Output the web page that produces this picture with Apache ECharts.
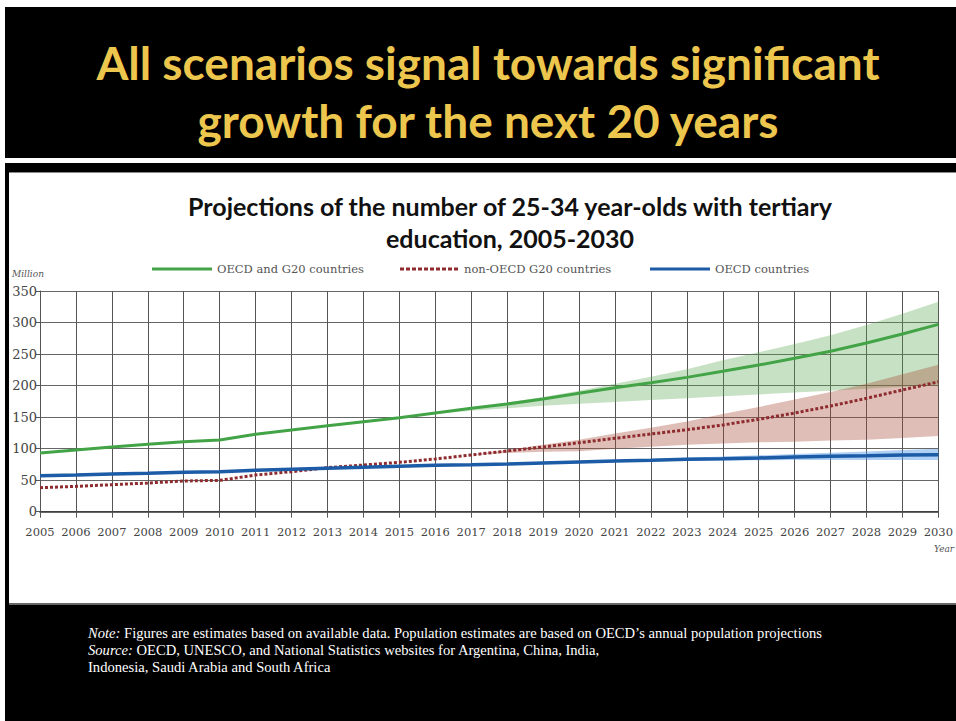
<!DOCTYPE html>
<html>
<head>
<meta charset="utf-8">
<script src="https://cdn.jsdelivr.net/npm/echarts@6/dist/echarts.min.js"></script>
<style>
html,body{margin:0;padding:0;background:#fff;}
#c{width:956px;height:721px;}
</style>
</head>
<body>
<div id="c"></div>
<script>
// ---- data ----
const years = ['2005','2006','2007','2008','2009','2010','2011','2012','2013','2014','2015','2016','2017','2018','2019','2020','2021','2022','2023','2024','2025','2026','2027','2028','2029','2030'];
const yTicks = [0, 50, 100, 150, 200, 250, 300, 350];

const oecdG20 = [93, 97.8, 102.6, 106.9, 111, 113.7, 122.7, 129.6, 136.4, 142.7, 149, 156.5, 164, 170.8, 178.7, 187.7, 196.7, 204.6, 213, 222.6, 232.6, 243.2, 254.4, 267.5, 281.8, 297];
const oecdG20Low = [93, 97.8, 102.6, 106.9, 111, 113.7, 122.7, 129.6, 136.4, 142.7, 149, 155, 160, 164, 168, 171, 174, 177, 180, 183, 186, 189, 192, 195, 198, 200];
const oecdG20High = [93, 97.8, 102.6, 106.9, 111, 113.7, 122.7, 129.6, 136.4, 142.7, 149, 157, 165, 173, 182, 192, 203, 214, 226, 240, 253, 266, 280, 296, 314, 333];

const nonOecdG20 = [38, 40.2, 42.8, 45.5, 48.7, 49.7, 58.2, 63.4, 69.8, 74, 78.3, 83.6, 90, 96.3, 102.6, 109.4, 116.4, 123.2, 130, 137.5, 146.5, 156.5, 167.6, 179.8, 193, 206];
const nonOecdG20Low = [38, 40.2, 42.8, 45.5, 48.7, 49.7, 58.2, 63.4, 69.8, 74, 78.3, 83.6, 90, 93, 95, 96, 100, 103, 106, 108, 110, 111, 113, 114, 117, 120];
const nonOecdG20High = [38, 40.2, 42.8, 45.5, 48.7, 49.7, 58.2, 63.4, 69.8, 74, 78.3, 83.6, 90, 98, 106, 114, 124, 133, 143, 155, 166, 178, 190, 203, 218, 233];

const oecd = [57, 58.2, 59.8, 60.9, 62.5, 63.4, 65.6, 67.2, 68.8, 70.4, 72, 73.6, 74.5, 75.6, 77.2, 78.8, 80.4, 81.5, 83.1, 84, 85.2, 86.7, 87.8, 88.8, 90, 90.4];
const oecdLow = [57, 58.2, 59.8, 60.9, 62.5, 63.4, 65.6, 67.2, 68.8, 70.4, 72, 73.6, 74.5, 75.6, 77.2, 78.8, 79.5, 80, 80.5, 81, 81.5, 82, 82, 82, 82, 82];
const oecdHigh = [57, 58.2, 59.8, 60.9, 62.5, 63.4, 65.6, 67.2, 68.8, 70.4, 72, 73.6, 74.5, 75.6, 77.2, 78.8, 81.5, 83.5, 85.5, 87.5, 89.5, 91.5, 93.5, 95.5, 98, 100];

const mainTitle = 'All scenarios signal towards significant\ngrowth for the next 20 years';
const subTitle = 'Projections of the number of 25-34 year-olds with tertiary\neducation, 2005-2030';

// ---- chart ----
const chart = echarts.init(document.getElementById('c'), null, {renderer: 'svg'});
const diff = (hi, lo) => hi.map((v, i) => +(v - lo[i]).toFixed(2));

function band(name, low, high, color) {
  return [
    {name: name + 'base', type: 'line', stack: name, data: low, symbol: 'none', silent: true,
     lineStyle: {opacity: 0}, z: 1},
    {name: name + 'band', type: 'line', stack: name, data: diff(high, low), symbol: 'none', silent: true,
     lineStyle: {opacity: 0}, areaStyle: {color: color, opacity: 1}, z: 1}
  ];
}

const serif = 'DejaVu Serif';
const solidIcon = 'path://M0,0h60v3h-60z';
let dots = '';
for (let i = 0; i < 10; i++) dots += 'M' + (i * 6) + ',0h4v3h-4z';
const dottedIcon = 'path://' + dots;

const legendBase = {top: 263, padding: 0, itemWidth: 60, itemHeight: 3, itemGap: 0,
  textStyle: {fontFamily: serif, fontSize: 11.5, color: '#555'}};

const option = {
  animation: false,
  backgroundColor: '#fff',
  graphic: [
    {type: 'rect', shape: {x: 5, y: 7, width: 951, height: 151}, style: {fill: '#000'}, z: -5},
    {type: 'rect', shape: {x: 5, y: 163, width: 951, height: 9}, style: {fill: '#000'}, z: -5},
    {type: 'rect', shape: {x: 5, y: 163, width: 4, height: 450}, style: {fill: '#000'}, z: -5},
    {type: 'rect', shape: {x: 9, y: 172, width: 947, height: 1}, style: {fill: '#888'}, z: -5},
    {type: 'rect', shape: {x: 9, y: 603, width: 947, height: 2}, style: {fill: '#666'}, z: -5},
    {type: 'rect', shape: {x: 5, y: 605, width: 951, height: 116}, style: {fill: '#000'}, z: -5},
    {type: 'text', x: 488, y: 91, style: {text: mainTitle, fill: '#EDC64E', fontFamily: 'Lato', fontWeight: 'bold',
      fontSize: 46, lineHeight: 58, align: 'center', verticalAlign: 'middle'}},
    {type: 'text', x: 510, y: 222, style: {text: subTitle, fill: '#111', fontFamily: 'Lato', fontWeight: 'bold',
      fontSize: 25, lineHeight: 32, align: 'center', verticalAlign: 'middle'}},
    {type: 'text', x: 12, y: 274, style: {text: 'Million', fill: '#555', fontFamily: serif, fontStyle: 'italic',
      fontSize: 9, align: 'left', verticalAlign: 'middle'}},
    {type: 'text', x: 934, y: 549, style: {text: 'Year', fill: '#555', fontFamily: serif, fontStyle: 'italic',
      fontSize: 9, align: 'left', verticalAlign: 'middle'}},
    {type: 'text', x: 88, y: 650, style: {
      text: '{i|Note:} Figures are estimates based on available data. Population estimates are based on OECD\u2019s annual population projections\n{i|Source:} OECD, UNESCO, and National Statistics websites for Argentina, China, India,\nIndonesia, Saudi Arabia and South Africa',
      fill: '#fff', fontFamily: 'Liberation Serif', fontSize: 14.6, lineHeight: 17, align: 'left', verticalAlign: 'middle',
      rich: {i: {fontStyle: 'italic', fill: '#fff', fontFamily: 'Liberation Serif', fontSize: 14.6}}}}
  ],
  legend: [
    Object.assign({}, legendBase, {left: 152, data: [{name: 'OECD and G20 countries', icon: solidIcon}]}),
    Object.assign({}, legendBase, {left: 400, data: [{name: 'non-OECD G20 countries', icon: dottedIcon}]}),
    Object.assign({}, legendBase, {left: 650, data: [{name: 'OECD countries', icon: solidIcon}]})
  ],
  grid: {left: 40, top: 291, width: 905.5, height: 220.7},
  xAxis: {
    type: 'category', data: years, boundaryGap: false,
    axisLine: {lineStyle: {color: '#333', width: 1.5}},
    axisTick: {show: true, length: 6, lineStyle: {color: '#555'}},
    axisLabel: {fontFamily: serif, fontSize: 11.5, color: '#444', margin: 14, interval: 0},
    splitLine: {show: true, lineStyle: {color: '#555', width: 1}}
  },
  yAxis: {
    type: 'value', min: 0, max: 350, interval: 50,
    axisLine: {show: true, lineStyle: {color: '#555', width: 1}},
    axisTick: {show: true, length: 4, lineStyle: {color: '#555'}},
    axisLabel: {fontFamily: serif, fontSize: 13, color: '#444', margin: 3,
      formatter: v => yTicks.includes(v) ? String(v) : ''},
    splitLine: {show: true, lineStyle: {color: '#666', width: 1.2}}
  },
  series: [
    ...band('g', oecdG20Low, oecdG20High, 'rgba(85,165,75,0.33)'),
    ...band('r', nonOecdG20Low, nonOecdG20High, 'rgba(165,75,55,0.36)'),
    ...band('b', oecdLow, oecdHigh, 'rgba(80,150,230,0.45)'),
    {name: 'OECD and G20 countries', type: 'line', data: oecdG20, symbol: 'none', z: 5,
     lineStyle: {color: '#43A447', width: 3}, itemStyle: {color: '#43A447'}},
    {name: 'non-OECD G20 countries', type: 'line', data: nonOecdG20, symbol: 'none', z: 5,
     lineStyle: {color: '#8E2B2E', width: 3, type: [3, 2]}, itemStyle: {color: '#8E2B2E'}},
    {name: 'OECD countries', type: 'line', data: oecd, symbol: 'none', z: 5,
     lineStyle: {color: '#1C5BA6', width: 3.5}, itemStyle: {color: '#1C5BA6'}}
  ]
};
chart.setOption(option);
</script>
</body>
</html>
